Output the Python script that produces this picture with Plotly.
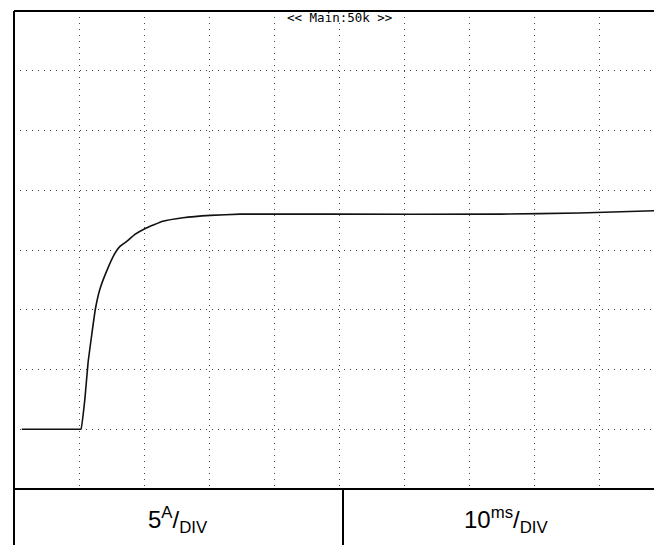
import plotly.graph_objects as go

# scope trace: time in ms, current in A (baseline = 0 A)
time_ms = [1.2, 9.9, 10.3, 10.9, 11.4, 12.5, 13.2, 14.3, 15.5, 16.3, 17.3, 18.6,
           20.2, 22.9, 26.0, 30.2, 34.8, 48.6, 74.8, 87.0, 99.7]
current_a = [0.0, 0.0, 0.0, 2.5, 5.6, 10.0, 11.7, 13.3, 14.7, 15.3, 15.7, 16.3,
             16.8, 17.4, 17.7, 17.9, 18.0, 18.0, 18.0, 18.1, 18.3]

volts_label = "5<sup>A</sup>/<sub>DIV</sub>"
time_label = "10<sup>ms</sup>/<sub>DIV</sub>"
top_label = "<< Main:50k >>"

# page body has an 8px margin, so the figure is shifted by that much
OFF = 8
W, H = 662 - OFF, 545 - OFF
L, T, B = 14 - OFF, 11 - OFF, 56
plot_h = H - T - B
plot_w = W - L
below = -B / plot_h

fig = go.Figure()

fig.add_trace(go.Scatter(
    x=time_ms, y=current_a,
    mode="lines",
    line=dict(color="#111111", width=1.6, shape="spline", smoothing=0.3),
    hoverinfo="skip",
    showlegend=False,
))

grid = dict(
    showgrid=True, gridcolor="#444444", gridwidth=1, griddash="1px,5px",
    showticklabels=False, ticks="", zeroline=False, showline=False,
    fixedrange=True,
)

fig.update_xaxes(range=[0, plot_w / 6.5], dtick=10, tick0=0, **grid)
fig.update_yaxes(range=[-5, 35], dtick=5, tick0=0, **grid)

# white patch behind the top label so the grid doesn't run through it
fig.add_shape(type="rect", xref="paper", yref="paper", layer="above",
              x0=270 / plot_w, x1=380 / plot_w, y0=1 - 12 / plot_h, y1=1 - 1.5 / plot_h,
              fillcolor="white", line=dict(width=0))

line = dict(color="black", width=2)
fig.add_shape(type="line", xref="paper", yref="paper", x0=0, x1=1, y0=1, y1=1, line=line)
fig.add_shape(type="line", xref="paper", yref="paper", x0=0, x1=1, y0=0, y1=0, line=line)
fig.add_shape(type="line", xref="paper", yref="paper", x0=0, x1=0, y0=1, y1=below, line=line)
fig.add_shape(type="line", xref="paper", yref="paper", x0=329 / plot_w, x1=329 / plot_w,
              y0=0, y1=below, line=line)

fig.add_annotation(text=volts_label, xref="paper", yref="paper",
                   x=164 / plot_w, y=-31 / plot_h, showarrow=False,
                   xanchor="center", yanchor="middle",
                   font=dict(family="Liberation Sans, Arial", size=24, color="black"))
fig.add_annotation(text=time_label, xref="paper", yref="paper",
                   x=492 / plot_w, y=-31 / plot_h, showarrow=False,
                   xanchor="center", yanchor="middle",
                   font=dict(family="Liberation Sans, Arial", size=24, color="black"))
fig.add_annotation(text=top_label, xref="paper", yref="paper",
                   x=325 / plot_w, y=1 - 7 / plot_h, showarrow=False,
                   xanchor="center", yanchor="middle",
                   font=dict(family="DejaVu Sans Mono", size=12.5, color="black"))

fig.update_layout(
    width=W, height=H,
    margin=dict(l=L, r=0, t=T, b=B),
    paper_bgcolor="white", plot_bgcolor="white",
    showlegend=False,
)

fig.write_html("out.html", config={"displayModeBar": False})
